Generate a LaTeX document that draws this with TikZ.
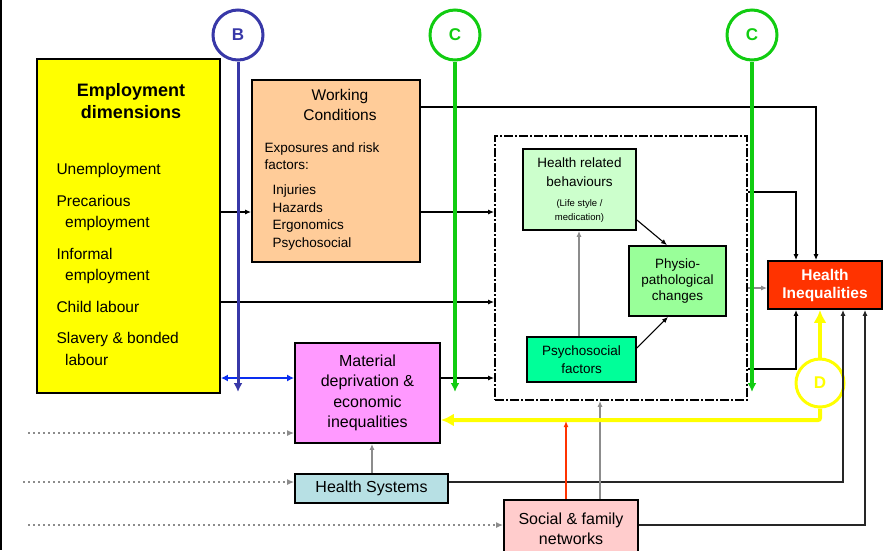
\documentclass[tikz,border=0pt]{standalone}
\usepackage{fontspec}
\setmainfont{Liberation Sans}
\usetikzlibrary{arrows.meta}
\definecolor{empyellow}{HTML}{FFFF00}
\definecolor{wcpeach}{HTML}{FFCC99}
\definecolor{hrbgreen}{HTML}{CCFFCC}
\definecolor{physgreen}{HTML}{99FF99}
\definecolor{psygreen}{HTML}{00FF99}
\definecolor{hired}{HTML}{FF3300}
\definecolor{matpink}{HTML}{FF99FF}
\definecolor{hsblue}{HTML}{B7E0E4}
\definecolor{sfnpink}{HTML}{FFCCCC}
\definecolor{bnavy}{HTML}{3838A8}
\definecolor{bblue}{HTML}{0A2EF0}
\definecolor{cgreen}{HTML}{11CC11}
\definecolor{linegray}{HTML}{8C8C8C}
\tikzset{
  box/.style={draw=black,line width=1.8pt,inner sep=0pt},
  arr/.style={-{Latex[length=6pt,width=5pt]},line width=1.5pt},
  grayarr/.style={-{Latex[length=6pt,width=5pt]},line width=1.5pt,draw=linegray},
  dotarr/.style={-{Latex[length=7pt,width=6pt]},line width=2.4pt,draw=linegray,
    dash pattern=on 2.4pt off 2.6pt},
  letter/.style={circle,draw,line width=3pt,minimum size=50pt,inner sep=0pt,font=\bfseries\fontsize{17}{17}\selectfont}
}
\begin{document}
\begin{tikzpicture}[x=1pt,y=-1pt]
                    \useasboundingbox[fill=white] (0,0) rectangle (885,550);
                    \draw[line width=2.5pt] (1,0)--(1,550);
                    % boxes
                    \node[box,fill=empyellow,minimum width=183pt,minimum height=334pt] (emp) at (128.5,226) {};
                    \node[box,fill=wcpeach,minimum width=168pt,minimum height=182pt] (wc) at (336,171) {};
                    \node[draw,line width=1.8pt,dash pattern=on 9pt off 2pt on 2pt off 2pt,minimum width=252pt,minimum height=264pt] (dbox) at (621,268) {};
                    \node[box,fill=hrbgreen,minimum width=113pt,minimum height=81pt] (hrb) at (579.5,189.5) {};
                    \node[box,fill=physgreen,minimum width=97pt,minimum height=70pt,align=center,font=\fontsize{13.5}{16}\selectfont] (phys) at (677.5,281) {Physio-\\pathological\\changes};
                    \node[box,fill=psygreen,minimum width=109pt,minimum height=45pt,align=center,font=\fontsize{13.5}{18}\selectfont] (psy) at (581.5,359.5) {Psychosocial\\factors};
                    \node[box,fill=hired,text=white,minimum width=114pt,minimum height=48pt,align=center,font=\bfseries\fontsize{15.5}{18}\selectfont] (hi) at (825,285) {Health\\Inequalities};
                    \node[box,fill=matpink,minimum width=145pt,minimum height=100pt,align=center,font=\fontsize{16}{20.5}\selectfont] (mat) at (367.5,393) {Material\\deprivation \&\\economic\\inequalities};
                    \node[box,fill=hsblue,minimum width=153pt,minimum height=29pt,font=\fontsize{16}{18}\selectfont] (hs) at (371.5,488.5) {Health Systems};
                    \node[box,fill=sfnpink,minimum width=134pt,minimum height=65pt,align=center,font=\fontsize{16}{20}\selectfont,text depth=8pt] (sfn) at (571,532.5) {Social \& family\\networks};
                    % texts
                    \node[align=center,font=\bfseries\fontsize{18}{22}\selectfont] (emptitle) at (131,101) {Employment\\dimensions};
                    \node[align=left,anchor=north west,font=\fontsize{15.5}{21.5}\selectfont] (empitems) at (53,160)
                      {Unemployment\\[10pt]Precarious\\\ \ employment\\[10pt]Informal\\\ \ employment\\[10pt]Child labour\\[10pt]Slavery \& bonded\\\ \ labour};
                    \node[align=center,font=\fontsize{15.5}{20}\selectfont] (wctitle) at (340,105) {Working\\Conditions};
                    \node[align=left,anchor=north west,font=\fontsize{13.5}{17}\selectfont] (wcexp) at (261,139) {Exposures and risk\\factors:};
                    \node[align=left,anchor=north west,font=\fontsize{13.5}{17.7}\selectfont] (wcitems) at (269,181) {Injuries\\Hazards\\Ergonomics\\Psychosocial};
                    \node[align=center,font=\fontsize{13.5}{19}\selectfont] (hrbtitle) at (579.5,172) {Health related\\behaviours};
                    \node[align=center,font=\fontsize{9.5}{14}\selectfont] (hrbsub) at (579.5,211) {(Life style /\\medication)};
                    % letters
                    \node[letter,draw=bnavy,text=bnavy] (B) at (238,35) {B};
                    \node[letter,draw=cgreen,text=cgreen] (C1) at (455,35) {C};
                    \node[letter,draw=cgreen,text=cgreen] (C2) at (752,35) {C};
                    \node[letter,draw=empyellow,text=empyellow,minimum size=48pt] (D) at (820,383) {D};
                    \coordinate (bend) at (238,392);
                    \coordinate (c1end) at (455,392);
                    \coordinate (c2end) at (752,392);
                    \coordinate (dot1) at (28,433);
                    \coordinate (dot2) at (23,482);
                    \coordinate (dot3) at (28,525);
                    % connectors
                    \draw[arr] (emp.east|-0,212)--(wc.west|-0,212);
                    \draw[arr] (wc.east|-0,212)--(dbox.west|-0,212);
                    \draw[arr] (emp.east|-0,302)--(dbox.west|-0,302);
                    \draw[arr] (mat.east|-0,378)--(dbox.west|-0,378);
                    \draw[arr] (wc.east|-0,107)-|(hi.north-|816,0);
                    \draw[arr] (dbox.east|-0,192)-|(hi.north-|796,0);
                    \draw[grayarr] (dbox.east|-0,288)--(hi.west|-0,288);
                    \draw[arr] (dbox.east|-0,369)-|(hi.south-|796,0);
                    \draw[arr,line width=1.1pt] (hrb.east|-0,220)--(phys.north-|667,0);
                    \draw[arr,line width=1.1pt] (psy.east|-0,348)--(phys.south-|668,0);
                    \draw[grayarr] (psy.north-|579,0)--(hrb.south-|579,0);
                    \draw[grayarr] (hs.north-|372,0)--(mat.south-|372,0);
                    \draw[arr,draw=black!85] (hs.east|-0,482)-|(hi.south-|843,0);
                    \draw[arr,draw=black!85] (sfn.east|-0,525)-|(hi.south-|865,0);
                    \draw[grayarr] (sfn.north-|600,0)--(dbox.south-|600,0);
                    \draw[{Latex[length=7pt,width=7pt]}-{Latex[length=7pt,width=7pt]},line width=2.2pt,bblue] (emp.east|-0,378)--(mat.west|-0,378);
                    \draw[-{Latex[length=9pt,width=9pt]},line width=3pt,bnavy] (B)--(bend);
                    \draw[-{Latex[length=9pt,width=9pt]},line width=3.2pt,cgreen] (C1)--(c1end);
                    \draw[-{Latex[length=9pt,width=9pt]},line width=3.2pt,cgreen] (C2)--(c2end);
                    \draw[-{Latex[length=13pt,width=13pt]},line width=4pt,empyellow] (D)--(hi.south-|D);
                    \draw[-{Latex[length=13pt,width=13pt]},line width=4pt,empyellow,rounded corners=2pt] (D)|-(mat.east|-0,420) coordinate[pos=0.75] (yline);
                    \draw[-{Latex[length=6pt,width=5pt]},line width=1.6pt,hired] (sfn.north-|566,0)--(566,421);
                    \draw[dotarr] (dot1)--(mat.west|-dot1);
                    \draw[dotarr] (dot2)--(hs.west|-dot2);
                    \draw[dotarr] (dot3)--(sfn.west|-dot3);
                \end{tikzpicture}
\end{document}
